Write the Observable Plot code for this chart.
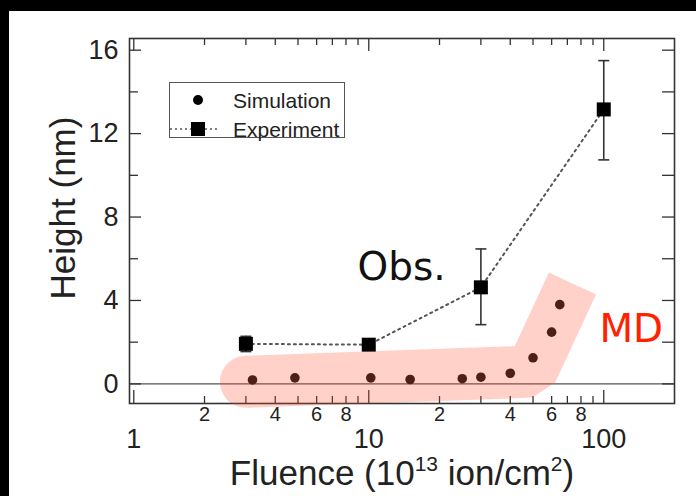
<!DOCTYPE html>
<html>
<head>
<meta charset="utf-8">
<script src="https://cdn.jsdelivr.net/npm/d3@7"></script>
<script src="https://cdn.jsdelivr.net/npm/@observablehq/plot@0.6"></script>
<style>
html, body { margin: 0; padding: 0; background: #000; }
#wrap { position: relative; width: 696px; height: 496px; background: #fff; overflow: hidden; }
.blk { position: absolute; background: #000; }
.ttl { position: absolute; white-space: nowrap; font-family: "Liberation Sans", Arial, sans-serif;
  font-size: 35px; line-height: 1; color: #222; }
#xtitle { left: 402px; top: 455px; transform: translateX(-50%); }
#xtitle sup { font-size: 0.6em; vertical-align: 0; position: relative; top: -0.65em; }
#ytitle { left: 62px; top: 208px; transform: translate(-50%, -50%) rotate(-90deg); }
#legend { position: absolute; left: 169px; top: 82px; width: 176px; height: 56px; box-sizing: border-box;
  border: 1px solid #555; background: #fff; font-family: "Liberation Sans", Arial, sans-serif; font-size: 21px; color: #222; }
#legend svg { position: absolute; left: 0; top: 0; }
#legend span { position: absolute; left: 63px; line-height: 1; transform: translateY(-50%); }
</style>
</head>
<body>
<div id="wrap"></div>
<script>
// ---- data ----
const simFluence = [3.2, 4.85, 10.2, 15, 25, 30, 40, 50, 60, 65];
const simHeight  = [0.19, 0.29, 0.29, 0.21, 0.25, 0.32, 0.51, 1.25, 2.48, 3.80];

const expFluence = [3, 10, 30, 100];
const expHeight  = [1.92, 1.88, 4.63, 13.16];
const expLow     = [1.55, 1.88, 2.84, 10.74];
const expHigh    = [2.28, 1.88, 6.47, 15.5];

// axis ticks and labels
const yMajor = [0, 4, 8, 12, 16];
const yMinor = [2, 6, 10, 14];
const xMajor = [1, 10, 100];
const xMajorText = ["1", "10", "100"];
const xMinor = [2, 3, 4, 5, 6, 7, 8, 9, 20, 30, 40, 50, 60, 70, 80, 90];
const xMinorLabeled = [2, 4, 6, 8, 20, 40, 60, 80];
const xMinorText = ["2", "4", "6", "8", "2", "4", "6", "8"];

// highlight band (MD) and annotations
const bandFluence = [3.0, 49.3, 73.6];
const bandHeight  = [0.1, 0.59, 4.81];
const annotText = ["Obs.", "MD"];
const annotFluence = [13.8, 131];
const annotHeight = [5.6, 2.6];
const annotColor = ["#111", "#ff2200"];

// ---- build tables ----
const sim = simFluence.map((x, i) => ({x, y: simHeight[i]}));
const exp = expFluence.map((x, i) => ({x, y: expHeight[i], lo: expLow[i], hi: expHigh[i]}));
const band = bandFluence.map((x, i) => ({x, y: bandHeight[i]}));
const annot = annotText.map((t, i) => ({t, x: annotFluence[i], y: annotHeight[i], c: annotColor[i]}));

const W = 696, H = 496, mL = 129, mR = 22, mT = 38, mB = 93;
const FW = W - mL - mR, FH = H - mT - mB;
const axisColor = "#333";
const font = "Liberation Sans, Arial, sans-serif";

const capSymbol = { draw(ctx, size) { const r = Math.sqrt(size / Math.PI); ctx.moveTo(-r, 0); ctx.lineTo(r, 0); } };

const chart = Plot.plot({
  width: W, height: H,
  marginLeft: mL, marginRight: mR, marginTop: mT, marginBottom: mB,
  x: {type: "log", domain: [0.959, 200], axis: null},
  y: {domain: [-0.94, 16.56], axis: null},
  style: {background: "white", fontFamily: font, color: "#222", overflow: "visible"},
  marks: [
    Plot.ruleY([0], {stroke: "#555", strokeWidth: 1.2}),
    // ticks (inside the frame)
    Plot.tickY(yMajor, {y: d => d, insetRight: FW - 12, stroke: axisColor, strokeWidth: 1.3}),
    Plot.tickY(yMinor, {y: d => d, insetRight: FW - 9, stroke: axisColor, strokeWidth: 1.3}),
    Plot.tickY(yMajor, {y: d => d, insetLeft: FW - 12, stroke: axisColor, strokeWidth: 1.3}),
    Plot.tickY(yMinor, {y: d => d, insetLeft: FW - 12, stroke: axisColor, strokeWidth: 1.3}),
    Plot.tickX(xMajor, {x: d => d, insetTop: FH - 13, stroke: axisColor, strokeWidth: 1.3}),
    Plot.tickX(xMinor, {x: d => d, insetTop: FH - 7, stroke: axisColor, strokeWidth: 1.3}),
    Plot.tickX(xMajor, {x: d => d, insetBottom: FH - 13, stroke: axisColor, strokeWidth: 1.3}),
    Plot.tickX(xMinor, {x: d => d, insetBottom: FH - 7, stroke: axisColor, strokeWidth: 1.3}),
    Plot.frame({stroke: axisColor, strokeWidth: 1.6}),
    // tick labels
    Plot.text(yMajor, {y: d => d, frameAnchor: "left", textAnchor: "end", dx: -11, fontSize: 27, fill: "#222"}),
    Plot.text(xMinorLabeled, {x: d => d, text: (d, i) => xMinorText[i], frameAnchor: "bottom", lineAnchor: "middle", dy: 11, fontSize: 20, fill: "#222"}),
    Plot.text(xMajor, {x: d => d, text: (d, i) => xMajorText[i], frameAnchor: "bottom", lineAnchor: "middle", dy: 36, fontSize: 27, fill: "#222"}),
    // experiment
    Plot.line(exp, {x: "x", y: "y", stroke: "#555", strokeWidth: 2, strokeDasharray: "2,4"}),
    Plot.ruleX(exp, {x: "x", y1: "lo", y2: "hi", stroke: "#333", strokeWidth: 1.6}),
    Plot.dot(exp, {x: "x", y: "lo", symbol: capSymbol, r: 5.5, stroke: "#333", strokeWidth: 1.6}),
    Plot.dot(exp, {x: "x", y: "hi", symbol: capSymbol, r: 5.5, stroke: "#333", strokeWidth: 1.6}),
    Plot.dot(exp, {x: "x", y: "y", symbol: "square", r: 7.9, fill: "#000", stroke: "none"}),
    // simulation
    Plot.dot(sim, {x: "x", y: "y", r: 4.8, fill: "#111", stroke: "none"}),
    // MD band
    Plot.line(band, {x: "x", y: "y", stroke: "#ff4a2a", strokeWidth: 52, strokeLinecap: "butt", strokeLinejoin: "bevel", ariaDescription: "mdband"}),
    Plot.dot(band.slice(0, 1), {x: "x", y: "y", r: 26, fill: "#ff4a2a", stroke: "none", ariaDescription: "mdband"}),
    // annotations
    Plot.text(annot, {x: "x", y: "y", text: "t", fill: "c", fontSize: 39, fontFamily: "DejaVu Sans, sans-serif"})
  ]
});

// group the two band pieces so they share one transparency
const bandParts = Array.from(chart.querySelectorAll('[aria-description="mdband"]'));
if (bandParts.length) {
  const g = document.createElementNS("http://www.w3.org/2000/svg", "g");
  g.setAttribute("opacity", "0.25");
  bandParts[0].parentNode.insertBefore(g, bandParts[0]);
  bandParts.forEach(p => g.appendChild(p));
}

const wrap = document.getElementById("wrap");
wrap.appendChild(chart);

// axis titles (x title has superscripts)
const xt = document.createElement("div");
xt.id = "xtitle"; xt.className = "ttl";
xt.innerHTML = "Fluence (10<sup>13</sup> ion/cm<sup>2</sup>)";
wrap.appendChild(xt);
const yt = document.createElement("div");
yt.id = "ytitle"; yt.className = "ttl";
yt.textContent = "Height (nm)";
wrap.appendChild(yt);

// legend
const lg = document.createElement("div");
lg.id = "legend";
lg.innerHTML = '<svg width="176" height="56">' +
  '<circle cx="28" cy="17" r="5" fill="#000"/>' +
  '<line x1="0" x2="50" y1="46" y2="46" stroke="#555" stroke-width="1.6" stroke-dasharray="2,3"/>' +
  '<rect x="21" y="39" width="14" height="14" fill="#000"/>' +
  '</svg>' +
  '<span style="top:17px">Simulation</span>' +
  '<span style="top:46px">Experiment</span>';
wrap.appendChild(lg);

// black border strips of the reference
const stripTop = document.createElement("div"); stripTop.className = "blk";
stripTop.style.cssText = "left:0;top:0;width:696px;height:11px;";
const stripLeft = document.createElement("div"); stripLeft.className = "blk";
stripLeft.style.cssText = "left:0;top:0;width:9px;height:496px;";
wrap.appendChild(stripTop); wrap.appendChild(stripLeft);
</script>
</body>
</html>
